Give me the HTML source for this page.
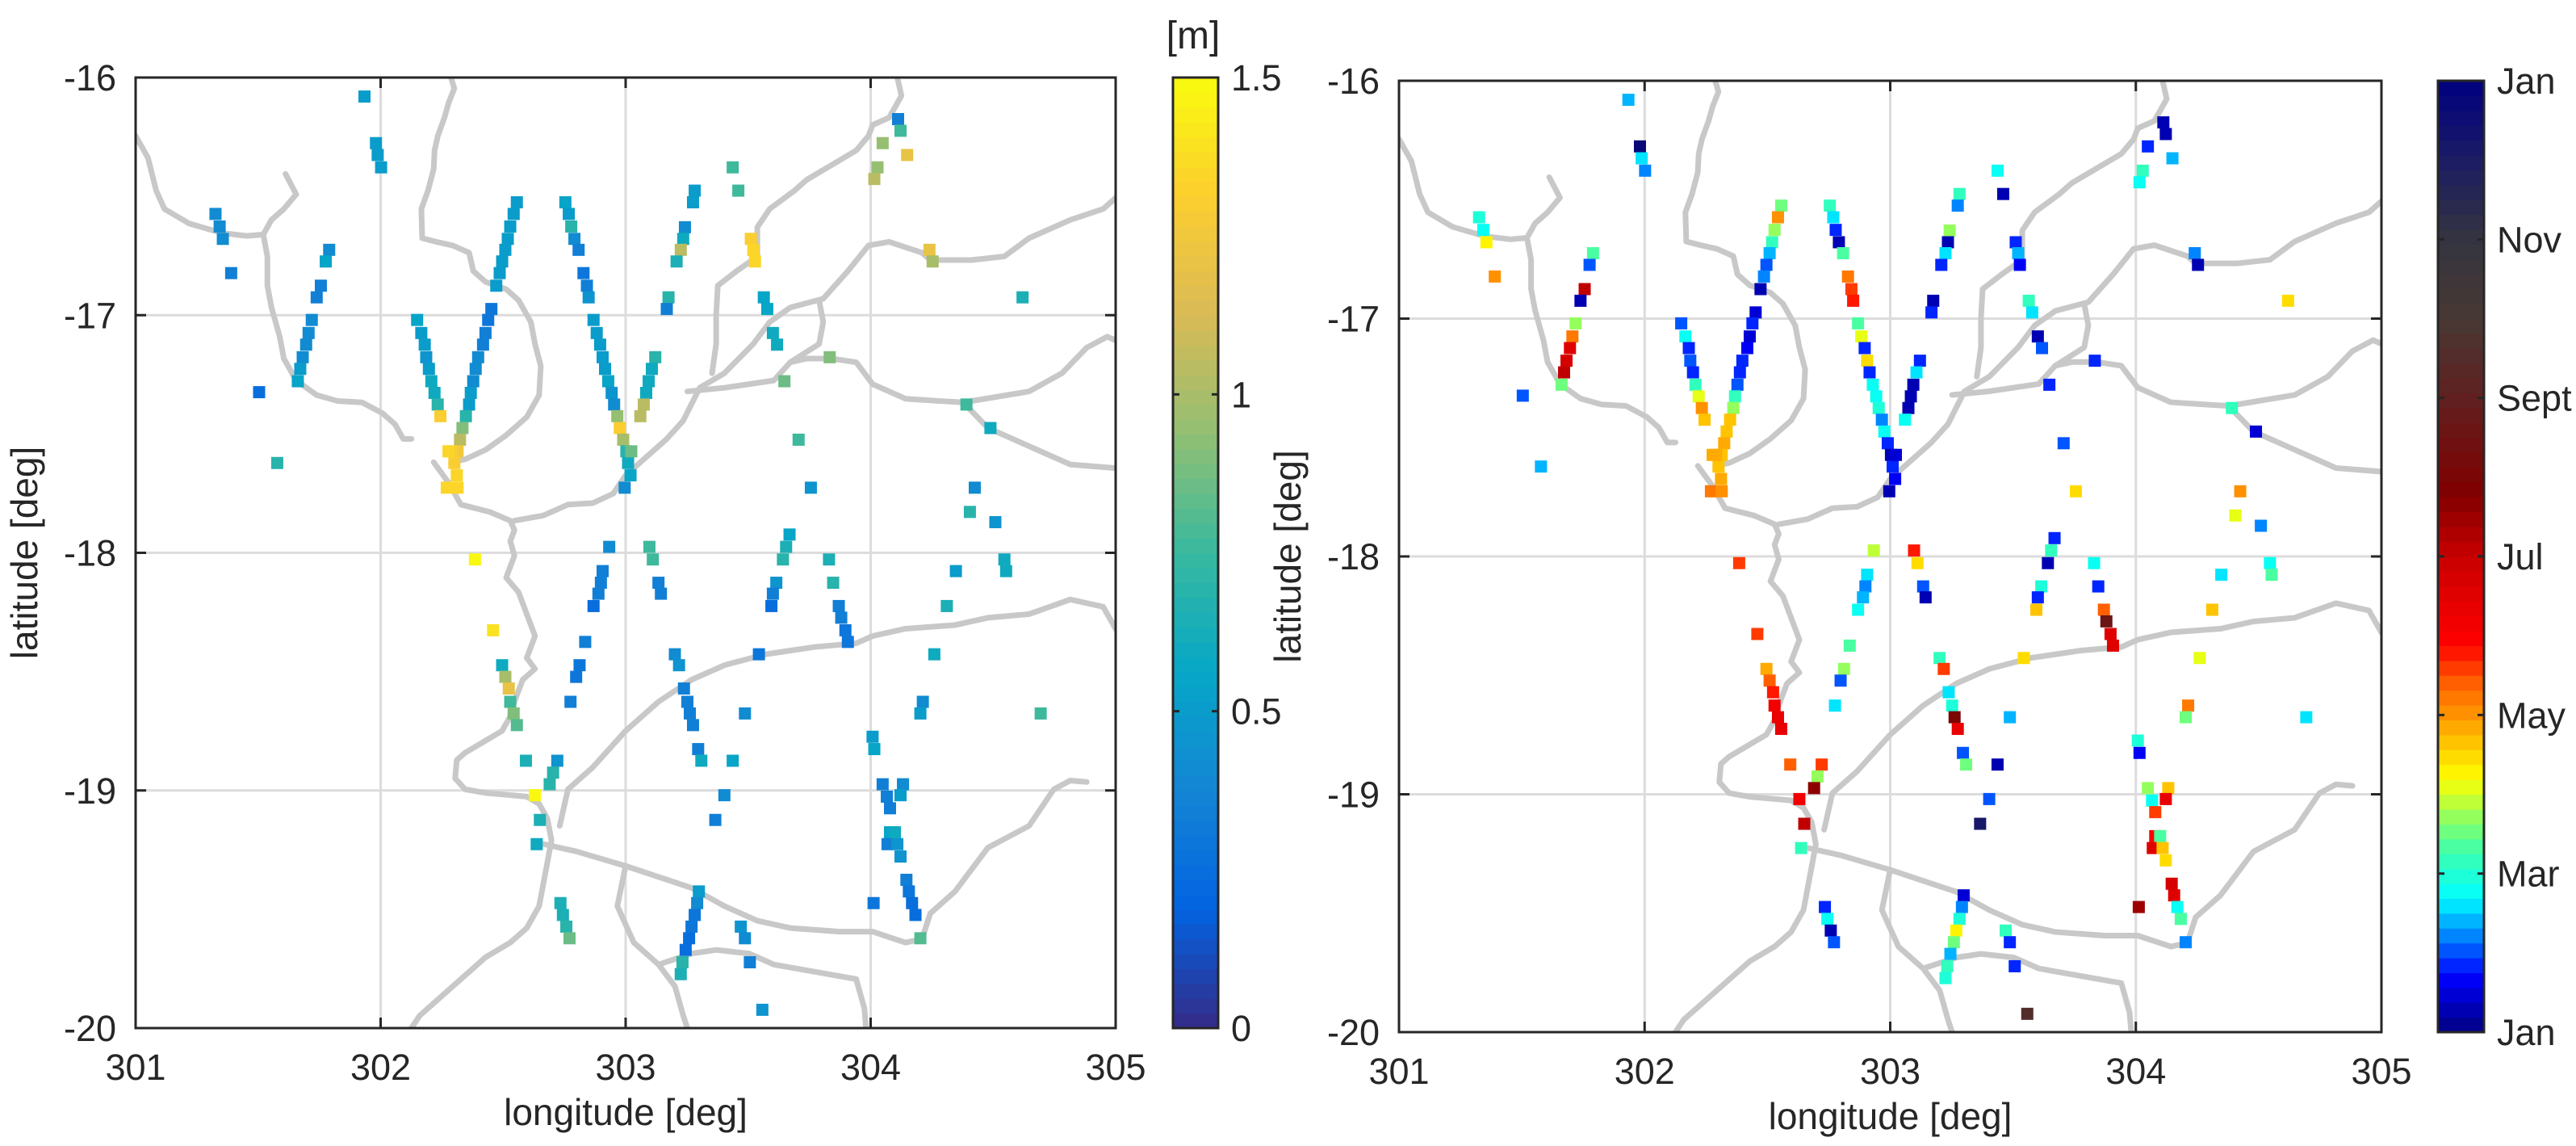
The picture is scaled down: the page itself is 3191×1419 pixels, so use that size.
<!DOCTYPE html>
<html><head><meta charset="utf-8">
<style>
html,body{margin:0;padding:0;background:#fff;}
svg{display:block;}
text{font-family:"Liberation Sans",Arial,sans-serif;fill:#262626;}
</style></head>
<body>
<svg id="fig" width="3191" height="1419" viewBox="0 0 3191 1419" xmlns="http://www.w3.org/2000/svg"></svg>
<script>
// ---- data ----
const lonDeg = [
301.934,301.981,301.988,302.002,301.326,301.343,301.356,301.390,301.504,301.578,
301.790,301.776,301.756,301.739,301.719,301.706,301.696,301.682,301.672,301.662,
302.149,302.166,302.180,302.186,302.197,302.207,302.220,302.233,302.244,
302.556,302.543,302.529,302.519,302.509,302.496,302.486,302.472,302.452,302.439,302.428,302.418,302.398,302.388,302.378,302.368,302.361,302.348,302.334,302.324,302.314,302.301,302.311,302.291,302.277,302.270,302.314,
302.385,302.459,302.496,302.509,302.523,302.529,302.543,302.556,302.593,302.630,302.650,302.637,302.721,302.704,302.690,302.734,302.744,302.758,302.771,
302.754,302.768,302.778,302.791,302.808,302.828,302.842,302.849,302.869,302.882,302.896,302.906,302.916,302.929,302.943,302.953,302.966,302.976,302.990,303.003,303.010,303.020,302.996,303.023,
303.282,303.275,303.242,303.235,303.225,303.208,303.175,303.168,303.121,303.107,303.094,303.084,303.074,303.060,
303.437,303.460,303.511,303.521,303.528,303.564,303.578,303.601,303.618,303.648,303.833,303.706,303.756,
304.112,304.122,304.049,304.028,304.015,304.149,304.240,304.253,304.620,304.391,304.489,304.425,304.405,304.509,304.546,304.553,304.348,304.311,304.260,304.213,304.203,304.694,
302.933,302.906,302.899,302.889,302.869,302.835,302.812,302.798,302.775,303.097,303.111,303.134,303.144,303.201,303.218,303.238,303.252,303.262,303.275,303.296,303.309,
303.437,303.403,303.366,303.487,303.544,303.669,303.655,303.642,303.615,303.601,303.595,303.830,303.847,303.870,303.880,303.897,303.907,
304.008,304.015,304.049,304.066,304.079,304.132,304.122,304.079,304.099,304.069,304.109,304.122,304.146,304.156,304.169,304.183,304.203,304.012,
303.299,303.292,303.282,303.269,303.259,303.245,303.232,303.225,303.470,303.487,303.507,303.558];
const latDeg = [
-16.080,-16.276,-16.326,-16.378,-16.574,-16.627,-16.679,-16.823,-17.324,-17.622,
-16.725,-16.774,-16.876,-16.925,-17.020,-17.075,-17.124,-17.177,-17.226,-17.278,
-17.020,-17.075,-17.124,-17.177,-17.226,-17.278,-17.327,-17.376,-17.425,
-16.525,-16.574,-16.627,-16.679,-16.725,-16.774,-16.823,-16.876,-16.974,-17.020,-17.075,-17.124,-17.177,-17.226,-17.278,-17.327,-17.376,-17.425,-17.475,-17.524,-17.573,-17.622,-17.674,-17.573,-17.573,-17.726,-17.726,
-18.028,-18.326,-18.473,-18.522,-18.571,-18.627,-18.676,-18.725,-18.875,-19.020,-19.124,-19.226,-18.875,-18.925,-18.974,-19.474,-19.524,-19.573,-19.622,
-16.525,-16.574,-16.627,-16.679,-16.725,-16.823,-16.876,-16.925,-17.020,-17.075,-17.124,-17.177,-17.226,-17.278,-17.327,-17.376,-17.425,-17.475,-17.524,-17.573,-17.622,-17.674,-17.726,-17.573,
-16.476,-16.525,-16.630,-16.679,-16.725,-16.774,-16.925,-16.974,-17.177,-17.226,-17.278,-17.327,-17.376,-17.425,
-16.378,-16.476,-16.679,-16.725,-16.774,-16.925,-16.974,-17.075,-17.124,-17.278,-17.177,-17.524,-17.726,
-16.175,-16.224,-16.276,-16.378,-16.427,-16.326,-16.725,-16.774,-16.925,-17.376,-17.475,-17.726,-17.828,-17.871,-18.028,-18.077,-18.077,-18.224,-18.427,-18.627,-18.676,-18.676,
-17.975,-18.077,-18.126,-18.172,-18.224,-18.375,-18.473,-18.522,-18.627,-17.975,-18.028,-18.126,-18.172,-18.427,-18.473,-18.571,-18.627,-18.676,-18.725,-18.826,-18.875,
-18.875,-19.020,-19.124,-18.676,-18.427,-17.923,-17.975,-18.028,-18.126,-18.172,-18.224,-18.028,-18.126,-18.224,-18.273,-18.326,-18.375,
-18.774,-18.826,-18.974,-19.026,-19.075,-18.974,-19.020,-19.176,-19.176,-19.226,-19.226,-19.278,-19.376,-19.425,-19.474,-19.524,-19.622,-19.474,
-19.425,-19.474,-19.524,-19.573,-19.622,-19.671,-19.723,-19.773,-19.573,-19.622,-19.723,-19.923];
const heightM = [
0.5,0.5,0.5,0.5,0.4,0.4,0.4,0.35,0.25,0.7,
0.4,0.55,0.35,0.35,0.4,0.4,0.4,0.4,0.5,0.55,
0.55,0.5,0.5,0.45,0.5,0.6,0.6,0.7,1.3,
0.5,0.5,0.5,0.5,0.5,0.5,0.5,0.5,0.3,0.3,0.35,0.35,0.4,0.4,0.4,0.5,0.5,0.7,0.9,1.05,1.25,1.3,1.35,1.3,1.35,1.35,1.35,
1.5,1.4,0.6,1.0,1.2,0.75,0.9,0.8,0.65,1.5,0.65,0.6,0.45,0.7,0.7,0.65,0.65,0.7,0.85,
0.55,0.5,0.7,0.4,0.35,0.3,0.35,0.45,0.5,0.5,0.5,0.5,0.5,0.55,0.45,0.4,0.95,1.3,1.0,0.7,0.6,0.55,0.4,0.85,
0.5,0.5,0.4,0.6,1.05,0.65,0.7,0.35,0.7,0.6,0.6,0.6,1.05,1.05,
0.75,0.75,1.3,1.35,1.35,0.55,0.55,0.6,0.6,0.85,0.9,0.75,0.45,
0.35,0.75,0.95,0.95,1.05,1.2,1.2,1.0,0.65,0.75,0.6,0.4,0.7,0.45,0.6,0.6,0.5,0.65,0.6,0.4,0.5,0.75,
0.4,0.35,0.35,0.35,0.25,0.35,0.3,0.3,0.35,0.75,0.75,0.35,0.35,0.4,0.45,0.35,0.35,0.35,0.35,0.35,0.6,
0.55,0.4,0.35,0.4,0.3,0.55,0.65,0.7,0.45,0.35,0.25,0.65,0.7,0.35,0.35,0.3,0.3,
0.5,0.55,0.35,0.35,0.35,0.4,0.5,0.55,0.6,0.35,0.45,0.45,0.35,0.3,0.25,0.25,0.8,0.3,
0.5,0.4,0.3,0.3,0.25,0.25,0.7,0.65,0.45,0.4,0.35,0.45];
const monthVal = [
1.4,11.8,1.6,1.3,2.0,1.8,3.2,4.0,1.0,1.4,
2.3,1.1,6.0,0.3,2.7,4.3,5.5,5.8,6.1,2.5,
1.0,1.8,0.9,1.0,0.8,2.2,3.0,4.0,3.6,
2.5,4.1,2.8,2.2,1.4,1.0,1.3,0.3,0.4,0.8,0.4,0.7,0.8,0.8,1.0,2.2,2.7,3.6,3.7,3.9,3.7,3.7,3.8,3.8,3.8,4.3,4.0,
4.6,4.6,3.9,4.4,4.8,5.2,5.3,5.3,4.4,5.2,6.0,2.2,4.5,2.8,6.7,0.8,1.8,0.3,1.0,
2.2,1.6,0.9,0.3,2.4,4.2,4.5,4.7,2.3,3.0,0.9,3.4,0.9,1.8,1.7,1.9,1.2,1.8,0.9,0.3,0.8,0.7,0.3,0.4,
2.2,1.2,2.7,0.3,1.5,0.9,0.3,0.8,0.8,1.5,0.2,0.3,0.2,1.7,
1.8,0.2,0.8,1.4,0.7,2.2,1.5,0.2,1.1,0.8,0.8,1.0,3.4,
0.2,0.2,0.9,2.1,1.8,1.4,1.2,0.3,3.5,2.2,0.5,4.1,3.1,1.2,1.7,2.4,1.5,3.7,3.1,4.2,2.6,1.6,
2.9,1.5,1.2,1.4,1.8,2.4,2.7,1.0,1.6,4.8,3.4,1.0,0.2,2.2,4.6,1.6,2.0,7.0,5.3,1.1,2.6,
0.3,1.0,11.2,1.4,3.4,0.9,2.2,0.3,2.0,0.9,3.6,1.7,0.9,4.4,7.5,5.6,5.5,
1.9,0.7,2.7,1.8,4.6,3.7,5.3,5.0,2.3,5.5,3.6,3.4,5.8,5.6,1.8,2.3,1.2,6.5,
0.4,1.2,1.9,3.3,2.6,1.4,2.1,2.0,2.2,0.9,0.8,8.5];
const xTicks = [301,302,303,304,305];
const yTicks = [-16,-17,-18,-19,-20];
const hTicks = [0,0.5,1,1.5];
const mTickLabels = ['Jan','Mar','May','Jul','Sept','Nov','Jan'];
const mTickVals = [0,2,4,6,8,10,12];

// ---- helpers ----
const NS='http://www.w3.org/2000/svg';
const svg=document.getElementById('fig');
function mk(tag,attrs,parent){const e=document.createElementNS(NS,tag);for(const k in attrs)e.setAttribute(k,attrs[k]);(parent||svg).appendChild(e);return e;}
function lerpStops(stops,t){t=Math.max(0,Math.min(1,t));for(let i=1;i<stops.length;i++){if(t<=stops[i][0]){const a=stops[i-1],b=stops[i];const f=(t-a[0])/(b[0]-a[0]||1);const ca=a[1],cb=b[1];return 'rgb('+[0,1,2].map(j=>Math.round(ca[j]+(cb[j]-ca[j])*f)).join(',')+')';}}const c=stops[stops.length-1][1];return 'rgb('+c.join(',')+')';}
const parulaStops=[[0,[53,42,135]],[0.125,[3,99,225]],[0.25,[20,133,212]],[0.375,[6,167,198]],[0.5,[56,185,158]],[0.625,[146,191,115]],[0.75,[217,186,86]],[0.875,[252,206,46]],[1,[249,251,14]]];
const monthStops=[[0,[0,0,128]],[0.7/12,[0,0,255]],[1.2/12,[0,128,255]],[1.7/12,[0,255,255]],[2.3/12,[64,255,170]],[2.7/12,[144,255,96]],[3.2/12,[255,255,0]],[3.8/12,[255,176,0]],[4.4/12,[255,96,0]],[4.9/12,[255,0,0]],[6.0/12,[200,0,0]],[6.8/12,[128,0,0]],[8/12,[96,32,32]],[9/12,[72,56,52]],[10/12,[52,52,64]],[11/12,[28,28,100]],[1,[0,0,128]]];
function disc(t){return (Math.floor(Math.max(0,Math.min(0.9999,t))*64)+0.5)/64;}
function parula(h){return lerpStops(parulaStops,disc(h/1.5));}
function monthColor(m){return lerpStops(monthStops,disc(m/12));}

function zl(x){return 301+(x-165)*0.003361;}
function zb(y){return -16-(y-105)*0.003072;}
const rivers=[
[[165,185],[180,215],[190,260],[200,285],[230,305],[270,318],[300,322],[320,320],[325,350],[325,390],[330,420],[340,460],[345,490],[360,520],[385,540],[410,548],[440,550],[465,565],[480,580],[490,600],[500,600]],
[[347,237],[360,265],[345,285],[330,300],[320,320]],
[[548,105],[552,120],[545,140],[540,160],[532,185],[528,205],[527,230],[520,260],[512,285],[513,325],[530,330],[550,335],[570,345],[575,370],[590,385],[615,395],[630,410],[645,440],[650,470],[657,500],[655,540],[640,570],[615,595],[590,615],[565,628],[548,632]],
[[527,632],[545,660],[560,690],[595,700],[620,712],[625,725],[620,740],[625,760],[615,790],[630,810],[640,840],[650,870],[640,900],[650,915],[635,930],[625,960],[620,980],[610,1000],[595,1010],[580,1020],[565,1030],[555,1040],[553,1065],[565,1080],[590,1085],[620,1088],[640,1090],[655,1100],[665,1120],[670,1150],[665,1180],[660,1210],[655,1240],[640,1270],[620,1290],[590,1310],[570,1330],[550,1350],[530,1370],[510,1390],[500,1407]],
[[625,712],[660,705],[690,690],[720,688],[745,675],[760,650],[780,630],[810,600],[830,575],[850,530],[880,510],[915,470],[935,440],[960,420],[1000,408],[1030,370],[1055,335],[1080,330],[1120,345],[1130,355],[1180,355],[1220,350],[1250,325],[1300,300],[1340,285],[1355,270]],
[[865,510],[870,470],[870,430],[872,390],[895,370],[920,350],[920,310],[935,285],[965,260],[980,245],[1010,225],[1040,205],[1055,185],[1060,170],[1080,160],[1095,130],[1090,105]],
[[835,535],[880,530],[940,520],[960,495],[995,470],[1000,440],[995,410]],
[[960,495],[980,490],[1010,490],[1040,495],[1060,525],[1100,545],[1140,548],[1170,550],[1200,585],[1230,600],[1270,620],[1300,635],[1355,640]],
[[1170,550],[1250,535],[1290,510],[1320,475],[1345,460],[1355,465]],
[[680,1130],[690,1080],[720,1050],[760,1000],[800,960],[840,930],[880,910],[930,895],[990,885],[1040,880],[1060,870],[1100,860],[1160,855],[1200,845],[1250,840],[1300,820],[1340,830],[1355,860]],
[[660,1155],[700,1165],[760,1185],[800,1200],[840,1215],[880,1240],[920,1260],[960,1270],[1020,1275],[1060,1275],[1100,1290],[1120,1285],[1130,1250],[1160,1220],[1200,1160],[1250,1130],[1280,1080],[1300,1068],[1320,1070]],
[[760,1185],[750,1240],[770,1290],[800,1320],[820,1350],[830,1390],[835,1407]],
[[800,1320],[840,1305],[870,1300],[910,1305],[940,1320],[990,1330],[1040,1340],[1050,1380],[1052,1407]]
];

function drawPanel(cfg){
  const {x0,x1,y0,y1,name,colorFn,vals}=cfg;
  const g=mk('g',{});
  
  
  const X=lon=>x0+(lon-301)/4*(x1-x0);
  const Y=lat=>y0+(-16-lat)/4*(y1-y0);
  xTicks.slice(1,-1).forEach(v=>{const l=mk('line',{x1:X(v),x2:X(v),y1:y0,y2:y1,stroke:'#dcdcdc','stroke-width':3},g);});
  yTicks.slice(1,-1).forEach(v=>{const l=mk('line',{x1:x0,x2:x1,y1:Y(v),y2:Y(v),stroke:'#dcdcdc','stroke-width':3},g);});
  const cp=mk('clipPath',{id:name+'-clip'},g);mk('rect',{x:x0,y:y0,width:x1-x0,height:y1-y0},cp);
  const rg=mk('g',{'clip-path':'url(#'+name+'-clip)'},g);
  rivers.forEach(r=>{const p=mk('polyline',{points:r.map(q=>X(zl(q[0]))+','+Y(zb(q[1]))).join(' '),fill:'none',stroke:'#c8c8c8','stroke-width':7,'stroke-linejoin':'round','stroke-linecap':'round'},rg);});
  const s=15;
  for(let i=0;i<lonDeg.length;i++){
    const r=mk('rect',{x:X(lonDeg[i])-s/2,y:Y(latDeg[i])-s/2,width:s,height:s,fill:colorFn(vals[i])},g);
    
    
  }
  const f=mk('rect',{x:x0,y:y0,width:x1-x0,height:y1-y0,fill:'none',stroke:'#262626','stroke-width':3},g);
  
  xTicks.forEach(v=>{
    mk('line',{x1:X(v),x2:X(v),y1:y1,y2:y1-13,stroke:'#262626','stroke-width':3},g);
    mk('line',{x1:X(v),x2:X(v),y1:y0,y2:y0+13,stroke:'#262626','stroke-width':3},g);
    const t=mk('text',{x:X(v),y:y1+64,'text-anchor':'middle','font-size':45},g);t.textContent=v;
    
  });
  yTicks.forEach(v=>{
    mk('line',{x1:x0,x2:x0+13,y1:Y(v),y2:Y(v),stroke:'#262626','stroke-width':3},g);
    mk('line',{x1:x1,x2:x1-13,y1:Y(v),y2:Y(v),stroke:'#262626','stroke-width':3},g);
    const t=mk('text',{x:x0-24,y:Y(v)+16,'text-anchor':'end','font-size':45},g);t.textContent=v;
    
  });
  const xl=mk('text',{x:(x0+x1)/2,y:y1+120,'text-anchor':'middle','font-size':46},g);xl.textContent='longitude [deg]';
  
  const yl=mk('text',{x:0,y:0,'text-anchor':'middle','font-size':46,transform:'translate('+(x0-122)+','+((y0+y1)/2)+') rotate(-90)'},g);yl.textContent='latitude [deg]';
  
}
function drawColorbar(cfg){
  const {x0,x1,y0,y1,name,colorFn,vmax,tickVals,tickLabels}=cfg;
  const g=mk('g',{});
  
  
  const n=64,h=(y1-y0)/n;
  for(let i=0;i<n;i++){
    const v=(i+0.5)/n*vmax;
    mk('rect',{x:x0,y:y1-(i+1)*h,width:x1-x0,height:h+0.6,fill:colorFn(v)},g);
  }
  mk('rect',{x:x0,y:y0,width:x1-x0,height:y1-y0,fill:'none',stroke:'#262626','stroke-width':3},g);
  tickVals.forEach((v,i)=>{
    const y=y1-v/vmax*(y1-y0);
    mk('line',{x1:x1,x2:x1-8,y1:y,y2:y,stroke:'#262626','stroke-width':3},g);
    mk('line',{x1:x0,x2:x0+8,y1:y,y2:y,stroke:'#262626','stroke-width':3},g);
    const t=mk('text',{x:x1+16,y:y+16,'font-size':45},g);t.textContent=tickLabels[i];
    
  });
}
drawPanel({x0:168,x1:1382,y0:96,y1:1273,name:'height',colorFn:parula,vals:heightM});
drawPanel({x0:1733,x1:2950,y0:100,y1:1278,name:'month',colorFn:monthColor,vals:monthVal});
drawColorbar({x0:1453,x1:1509,y0:96,y1:1273,name:'height-colorbar',colorFn:parula,vmax:1.5,tickVals:hTicks,tickLabels:hTicks.map(String)});
drawColorbar({x0:3020,x1:3077,y0:100,y1:1278,name:'month-colorbar',colorFn:monthColor,vmax:12,tickVals:mTickVals,tickLabels:mTickLabels});
const cu=mk('text',{x:1478,y:60,'text-anchor':'middle','font-size':48});cu.textContent='[m]';


</script>
</body></html>
